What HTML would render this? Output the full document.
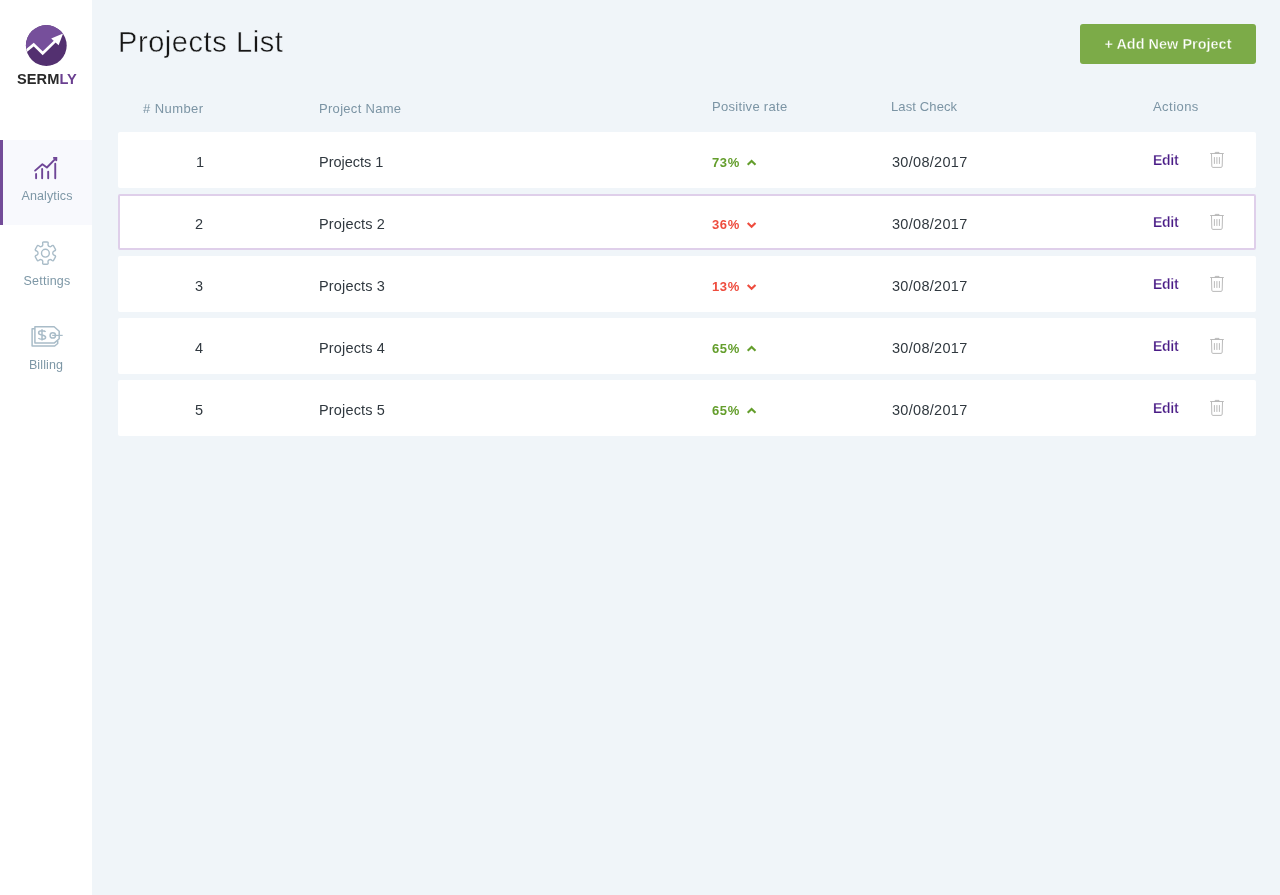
<!DOCTYPE html>
<html lang="en">
<head>
<meta charset="utf-8">
<title>Projects List</title>
<style>
*{box-sizing:border-box;margin:0;padding:0}
html,body{width:1280px;height:895px;overflow:hidden}
body{background:#f0f5f9;font-family:"Liberation Sans",sans-serif;color:#3a3f45;position:relative}
.t{position:absolute;white-space:nowrap;line-height:1;will-change:transform}
/* sidebar */
#side{position:absolute;left:0;top:0;width:92px;height:895px;background:#fff}
#act{position:absolute;left:0;top:140px;width:92px;height:85px;background:#f8f9fd}
#act:before{content:"";position:absolute;left:0;top:0;width:3px;height:85px;background:#734c98}
.nl{font-size:12.5px;color:#7d97a6;text-align:center;width:92px;left:0;letter-spacing:.12px}
svg{position:absolute;overflow:visible}
/* header */
#title{left:118px;top:27.5px;font-size:29px;color:#161616;letter-spacing:.57px;-webkit-text-stroke:.45px #f0f5f9}
#btn{position:absolute;left:1080px;top:24px;width:176px;height:40px;border-radius:3px;background:#7cab48}
#btn span{position:absolute;left:0;width:176px;text-align:center;top:12.5px;font-size:14.4px;font-weight:bold;color:#fff;line-height:1;white-space:nowrap;letter-spacing:.05px;-webkit-text-stroke:.35px #7cab48;will-change:transform}
.th{font-size:13px;color:#7b94a4;letter-spacing:.3px}
/* rows */
.row{position:absolute;left:118px;width:1138px;height:56px;background:#fff;border-radius:2px}
.row.sel{border:2px solid #dfcfea}
.c{font-size:14.5px;color:#30383f}
.p{letter-spacing:.16px}
.d{letter-spacing:.3px;margin-left:.7px}
.up{color:#649e2c;font-weight:bold;font-size:13px;letter-spacing:.6px}
.dn{color:#ee4c3e;font-weight:bold;font-size:13px;letter-spacing:.6px}
.ed{color:#491b86;font-weight:bold;font-size:14px;letter-spacing:-.3px;-webkit-text-stroke:.25px #fff}
</style>
</head>
<body>
<div id="side">
  <div id="act"></div>
  <svg id="logo" style="left:0;top:0" width="92" height="100" viewBox="0 0 92 100">
    <defs><clipPath id="lc"><circle cx="46.3" cy="45.5" r="20.4"/></clipPath></defs>
    <circle cx="46.3" cy="45.5" r="20.4" fill="#533070"/>
    <g clip-path="url(#lc)">
      <path d="M20,56 L33.7,44.6 L42.7,53.3 L56,40 L70,28 L70,20 L20,20Z" fill="#764f9b"/>
      <path d="M24,52.6 L33.7,44.6 L42.7,53.3 L56,40.4" fill="none" stroke="#fff" stroke-width="2.7" stroke-linejoin="miter"/>
      <path d="M63.1,33.4 L51.2,38.5 L58.6,45.2Z" fill="#fff"/>
    </g>
  </svg>
  <svg id="ic-an" style="left:0;top:140px" width="92" height="85" viewBox="0 140 92 85">
    <g fill="none" stroke="#6f4697" stroke-width="1.9" stroke-linecap="round" stroke-linejoin="round">
      <path d="M36.1,174V178.2M42.15,168.9V178.2M48.2,171.6V178.2M55.25,163.8V178.2"/>
      <path d="M35.1,170.6L42.4,164.2L46.9,167.5L55.8,158.3"/>
      <path d="M53.9,157.9H56.2V160.3" stroke-linejoin="miter"/>
    </g>
    <path d="M53.4,157H57.1V160.8Z" fill="#6f4697"/>
  </svg>
  <svg id="ic-se" style="left:0;top:225px" width="92" height="60" viewBox="0 225 92 60">
    <g fill="none" stroke="#a9bcc8" stroke-width="1.4" stroke-linejoin="round">
      <path transform="translate(45.4,253.1) scale(.975,1.03)" d="M2.81,-9.50Q2.99,-10.79 1.69,-10.79L-1.69,-10.79Q-2.99,-10.79 -2.81,-9.50L-2.69,-8.57Q-2.51,-7.28 -3.63,-6.63L-3.93,-6.46Q-5.05,-5.81 -6.08,-6.61L-6.82,-7.19Q-7.85,-7.99 -8.50,-6.86L-10.19,-3.93Q-10.84,-2.80 -9.64,-2.31L-8.76,-1.96Q-7.56,-1.47 -7.56,-0.17L-7.56,0.17Q-7.56,1.47 -8.76,1.96L-9.64,2.31Q-10.84,2.80 -10.19,3.93L-8.50,6.86Q-7.85,7.99 -6.82,7.19L-6.08,6.61Q-5.05,5.81 -3.93,6.46L-3.63,6.63Q-2.51,7.28 -2.69,8.57L-2.81,9.50Q-2.99,10.79 -1.69,10.79L1.69,10.79Q2.99,10.79 2.81,9.50L2.69,8.57Q2.51,7.28 3.63,6.63L3.93,6.46Q5.05,5.81 6.08,6.61L6.82,7.19Q7.85,7.99 8.50,6.86L10.19,3.93Q10.84,2.80 9.64,2.31L8.76,1.96Q7.56,1.47 7.56,0.17L7.56,-0.17Q7.56,-1.47 8.76,-1.96L9.64,-2.31Q10.84,-2.80 10.19,-3.93L8.50,-6.86Q7.85,-7.99 6.82,-7.19L6.08,-6.61Q5.05,-5.81 3.93,-6.46L3.63,-6.63Q2.51,-7.28 2.69,-8.57Z"/>
      <circle cx="45.4" cy="253.2" r="3.9"/>
    </g>
  </svg>
  <svg id="ic-bi" style="left:0;top:315px" width="92" height="60" viewBox="0 315 92 60">
    <g fill="none" stroke="#a9bcc8" stroke-width="1.5" stroke-linejoin="round">
      <path d="M34.9,326.8H54.15L59.2,331.3V338.8L54.15,343.1H34.9Z"/>
      <path d="M34.9,328.8H32.1V346H54.7L57.7,343.5V340.4"/>
      <circle cx="52.8" cy="335.4" r="2.7"/>
      <path d="M52.2,335.4H62.7" stroke-width="1.2"/>
      <path d="M45.6,331.9C44.6,330.6 38.6,330.1 38.6,332.9C38.6,335.6 45.6,334.4 45.6,337.3C45.6,340.1 39.6,339.6 38.4,338.1M42,329.3V340.6" stroke-width="1.5"/>
    </g>
  </svg>

  <div class="t" style="left:17.3px;top:72px;font-size:14.6px;font-weight:bold;color:#2a2a2a;letter-spacing:.07px">SERM<span style="color:#6a3f90">LY</span></div>
  <div class="t nl" style="top:190px;left:.5px">Analytics</div>
  <div class="t nl" style="top:275px;left:.5px;letter-spacing:.25px">Settings</div>
  <div class="t nl" style="top:359px">Billing</div>
</div>

<div class="t" id="title">Projects List</div>
<div id="btn"><span>+ Add New Project</span></div>

<div class="t th" style="left:143px;top:102px;letter-spacing:.42px"># Number</div>
<div class="t th" style="left:319px;top:102px">Project Name</div>
<div class="t th" style="left:712px;top:100px">Positive rate</div>
<div class="t th" style="left:891px;top:100px;letter-spacing:.12px">Last Check</div>
<div class="t th" style="left:1153px;top:100px;letter-spacing:.45px">Actions</div>

<div class="row" style="top:132px"></div>
<div class="t c num" style="left:169.2px;width:62px;text-align:center;top:155px">1</div>
<div class="t c p" style="left:319px;top:155px;letter-spacing:-.02px">Projects 1</div>
<div class="t up" style="left:712px;top:156px">73%</div>
<svg style="left:747px;top:159px" width="10" height="7" viewBox="0 0 10 7"><path d="M0.7,5.8L4.6,1.9L8.5,5.8" fill="none" stroke="#649e2c" stroke-width="2.1"/></svg>
<div class="t c d" style="left:891px;top:155px">30/08/2017</div>
<div class="t ed" style="left:1153px;top:153px">Edit</div>
<svg style="left:1209px;top:150px" width="16" height="18" viewBox="0 0 16 18"><g fill="none" stroke="#b6b6b6" stroke-width=".95"><path d="M1.2,3.5H14.8M6.2,3.3V2.4H10V3.3"/><path d="M2.5,3.9L2.8,16.2Q2.9,17.4 4,17.4H12Q13.1,17.4 13.2,16.2L13.5,3.9"/><path d="M5.4,7.1V13.9M7.9,7.1V13.9M10.4,7.1V13.9"/></g></svg>
<div class="row sel" style="top:194px"></div>
<div class="t c num" style="left:168px;width:62px;text-align:center;top:217px">2</div>
<div class="t c p" style="left:319px;top:217px">Projects 2</div>
<div class="t dn" style="left:712px;top:218px">36%</div>
<svg style="left:747px;top:221px" width="10" height="7" viewBox="0 0 10 7"><path d="M0.7,1.9L4.6,5.8L8.5,1.9" fill="none" stroke="#ee4c3e" stroke-width="2.1"/></svg>
<div class="t c d" style="left:891px;top:217px">30/08/2017</div>
<div class="t ed" style="left:1153px;top:215px">Edit</div>
<svg style="left:1209px;top:212px" width="16" height="18" viewBox="0 0 16 18"><g fill="none" stroke="#b6b6b6" stroke-width=".95"><path d="M1.2,3.5H14.8M6.2,3.3V2.4H10V3.3"/><path d="M2.5,3.9L2.8,16.2Q2.9,17.4 4,17.4H12Q13.1,17.4 13.2,16.2L13.5,3.9"/><path d="M5.4,7.1V13.9M7.9,7.1V13.9M10.4,7.1V13.9"/></g></svg>
<div class="row" style="top:256px"></div>
<div class="t c num" style="left:168px;width:62px;text-align:center;top:279px">3</div>
<div class="t c p" style="left:319px;top:279px">Projects 3</div>
<div class="t dn" style="left:712px;top:280px">13%</div>
<svg style="left:747px;top:283px" width="10" height="7" viewBox="0 0 10 7"><path d="M0.7,1.9L4.6,5.8L8.5,1.9" fill="none" stroke="#ee4c3e" stroke-width="2.1"/></svg>
<div class="t c d" style="left:891px;top:279px">30/08/2017</div>
<div class="t ed" style="left:1153px;top:277px">Edit</div>
<svg style="left:1209px;top:274px" width="16" height="18" viewBox="0 0 16 18"><g fill="none" stroke="#b6b6b6" stroke-width=".95"><path d="M1.2,3.5H14.8M6.2,3.3V2.4H10V3.3"/><path d="M2.5,3.9L2.8,16.2Q2.9,17.4 4,17.4H12Q13.1,17.4 13.2,16.2L13.5,3.9"/><path d="M5.4,7.1V13.9M7.9,7.1V13.9M10.4,7.1V13.9"/></g></svg>
<div class="row" style="top:318px"></div>
<div class="t c num" style="left:168px;width:62px;text-align:center;top:341px">4</div>
<div class="t c p" style="left:319px;top:341px">Projects 4</div>
<div class="t up" style="left:712px;top:342px">65%</div>
<svg style="left:747px;top:345px" width="10" height="7" viewBox="0 0 10 7"><path d="M0.7,5.8L4.6,1.9L8.5,5.8" fill="none" stroke="#649e2c" stroke-width="2.1"/></svg>
<div class="t c d" style="left:891px;top:341px">30/08/2017</div>
<div class="t ed" style="left:1153px;top:339px">Edit</div>
<svg style="left:1209px;top:336px" width="16" height="18" viewBox="0 0 16 18"><g fill="none" stroke="#b6b6b6" stroke-width=".95"><path d="M1.2,3.5H14.8M6.2,3.3V2.4H10V3.3"/><path d="M2.5,3.9L2.8,16.2Q2.9,17.4 4,17.4H12Q13.1,17.4 13.2,16.2L13.5,3.9"/><path d="M5.4,7.1V13.9M7.9,7.1V13.9M10.4,7.1V13.9"/></g></svg>
<div class="row" style="top:380px"></div>
<div class="t c num" style="left:168px;width:62px;text-align:center;top:403px">5</div>
<div class="t c p" style="left:319px;top:403px">Projects 5</div>
<div class="t up" style="left:712px;top:404px">65%</div>
<svg style="left:747px;top:407px" width="10" height="7" viewBox="0 0 10 7"><path d="M0.7,5.8L4.6,1.9L8.5,5.8" fill="none" stroke="#649e2c" stroke-width="2.1"/></svg>
<div class="t c d" style="left:891px;top:403px">30/08/2017</div>
<div class="t ed" style="left:1153px;top:401px">Edit</div>
<svg style="left:1209px;top:398px" width="16" height="18" viewBox="0 0 16 18"><g fill="none" stroke="#b6b6b6" stroke-width=".95"><path d="M1.2,3.5H14.8M6.2,3.3V2.4H10V3.3"/><path d="M2.5,3.9L2.8,16.2Q2.9,17.4 4,17.4H12Q13.1,17.4 13.2,16.2L13.5,3.9"/><path d="M5.4,7.1V13.9M7.9,7.1V13.9M10.4,7.1V13.9"/></g></svg>

</body>
</html>
